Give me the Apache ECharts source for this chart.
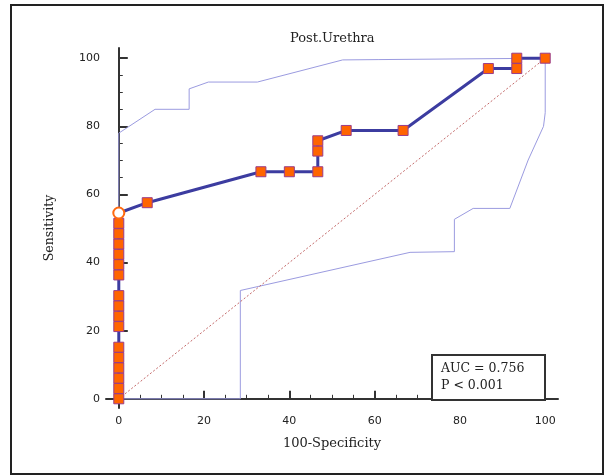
<!DOCTYPE html>
<html>
<head>
<meta charset="utf-8">
<script src="https://cdn.jsdelivr.net/npm/echarts@6/dist/echarts.min.js"></script>
<style>html,body{margin:0;padding:0;background:#fff;}#c{width:606px;height:475px;}</style>
</head>
<body>
<div id="c"></div>
<script>
// ROC curve (100-Specificity, Sensitivity)
const rocX = [0,0,0,0,0,0,0,0,0,0,0,0,0,0,0,0,0,6.67,33.33,40,46.67,46.67,46.67,53.33,66.67,86.67,93.33,93.33,100];
const rocY = [0,3.03,6.06,9.09,12.12,15.15,21.21,24.24,27.27,30.30,36.36,39.39,42.42,45.45,48.48,51.52,54.55,57.58,66.67,66.67,66.67,72.73,75.76,78.79,78.79,96.97,96.97,100,100];
const criterionIndex = 16;
// Confidence bounds
const upperX = [0,0,8.5,16.5,16.5,21,32.5,52.5,61,61,100];
const upperY = [0,78,85,85,91,93,93,99.5,99.6,100,100];
const lowerX = [0,28.5,28.5,68.3,78.7,78.7,83.1,91.7,96,99.6,100,100];
const lowerY = [0,0,31.8,43,43.2,52.7,55.9,55.9,70.1,80,84,100];
// Reference diagonal
const diagX = [0,100];
const diagY = [0,100];
// Ticks
const majorTicks = [0,20,40,60,80,100];
const minorTicks = [0,5,10,15,20,25,30,35,40,45,50,55,60,65,70,75,80,85,90,95,100];
const titleText = 'Post.Urethra';
const xName = '100-Specificity';
const yName = 'Sensitivity';
const statLines = ['AUC = 0.756','P < 0.001'];

const zip = (a,b) => a.map((v,i)=>[v,b[i]]);
const serif = 'DejaVu Serif';
const sans = 'DejaVu Sans';
const axisCol = '#333';

function mkX(major){
  return {
    type:'value', gridIndex:0, position:'bottom', min:-3, max:103,
    axisLine:{show:!major, lineStyle:{color:axisCol,width:2}},
    axisTick:{show:true, inside:true, length: major?8:4, customValues: major?majorTicks:minorTicks, lineStyle:{color:axisCol,width: major?2:1}},
    axisLabel:{show:major, customValues: majorTicks, margin:8, color:'#222', fontFamily:sans, fontSize:11},
    splitLine:{show:false},
    name: major? xName : '', nameLocation:'middle', nameGap:29,
    nameTextStyle:{fontFamily:serif, fontSize:13, color:'#222'}
  };
}
function mkY(major){
  return {
    type:'value', gridIndex:0, position:'left', min:-2.7, max:103,
    axisLine:{show:!major, lineStyle:{color:axisCol,width:2}},
    axisTick:{show:true, inside:true, length: major?9:4, customValues: major?majorTicks:minorTicks, lineStyle:{color:axisCol,width: major?2:1}},
    axisLabel:{show:major, customValues: majorTicks, margin:6, color:'#222', fontFamily:sans, fontSize:11},
    splitLine:{show:false},
    name: major? yName : '', nameLocation:'middle', nameGap:50,
    nameTextStyle:{fontFamily:serif, fontSize:12.5, color:'#222'}
  };
}

const rocData = zip(rocX, rocY).map((p,i)=> i===criterionIndex ?
  {value:p, symbol:'circle', symbolSize:11, itemStyle:{color:'#fff', borderColor:'#ff6a10', borderWidth:2}} :
  {value:p});

const chart = echarts.init(document.getElementById('c'), null, {renderer:'canvas'});
chart.setOption({
  animation:false,
  backgroundColor:'#fff',
  title:{text:titleText, left:285, top:27, textStyle:{fontFamily:serif, fontSize:13, fontWeight:'normal', color:'#222'}},
  grid:{left:106, right:48, top:48, bottom:67},
  xAxis:[mkX(false), mkX(true)],
  yAxis:[mkY(false), mkY(true)],
  series:[
    {type:'line', data:zip(upperX,upperY), showSymbol:false, symbol:'none', lineStyle:{color:'#9b9be0', width:1}, z:2},
    {type:'line', data:zip(lowerX,lowerY), showSymbol:false, symbol:'none', lineStyle:{color:'#9b9be0', width:1}, z:2},
    {type:'line', data:zip(diagX,diagY), showSymbol:false, symbol:'none', lineStyle:{color:'#c46a6a', width:1, type:[2,2]}, z:3},
    {type:'line', data:rocData, symbol:'rect', symbolSize:10, showAllSymbol:true,
      lineStyle:{color:'#3c3ca0', width:3},
      itemStyle:{color:'#ff6400', borderColor:'#9a3c8a', borderWidth:1}, z:5}
  ],
  graphic:[
    {type:'rect', shape:{x:11,y:5,width:592,height:469}, style:{fill:null, stroke:'#222', lineWidth:2}, z:0},
    {type:'rect', shape:{x:432,y:355,width:113,height:45}, style:{fill:'#fff', stroke:'#333', lineWidth:2}, z:10},
    {type:'text', left:441, top:362, style:{text:statLines[0], font:'12.5px "DejaVu Serif"', fill:'#222'}, z:11},
    {type:'text', left:441, top:379, style:{text:statLines[1], font:'12.5px "DejaVu Serif"', fill:'#222'}, z:11}
  ]
});
</script>
</body>
</html>
